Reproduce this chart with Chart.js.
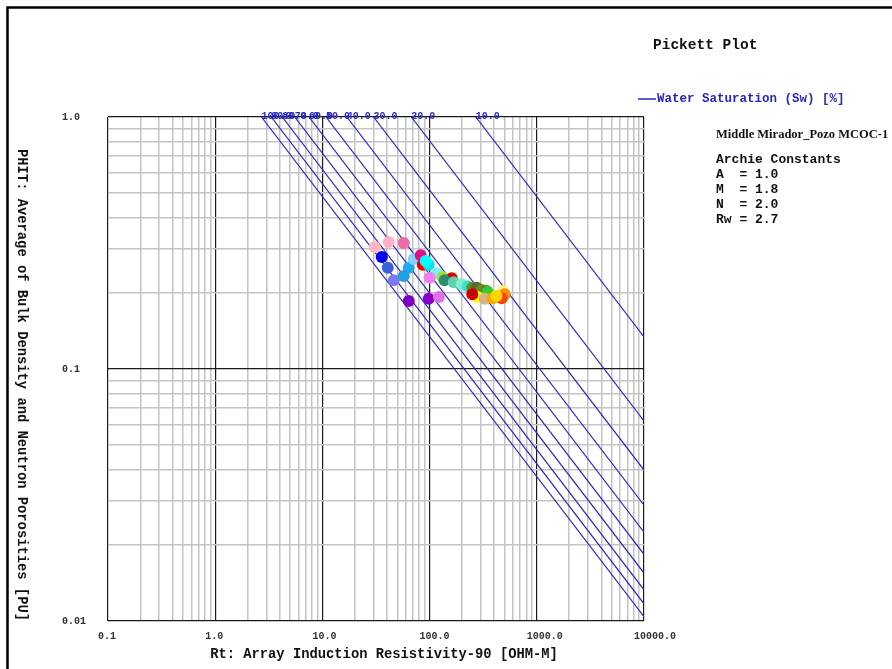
<!DOCTYPE html>
<html>
<head>
<meta charset="utf-8">
<script src="https://cdn.jsdelivr.net/npm/chart.js@4.4.0/dist/chart.umd.min.js"></script>
<style>
html,body{margin:0;padding:0;background:#fff;}
</style>
</head>
<body>
<canvas id="chart" width="892" height="669"></canvas>
<script>
//Datos de la grafica
//Lineas de saturacion de agua (Sw): Rt en PHIT = 1.0 y PHIT en el borde derecho (Rt = 10000)
const swLabels = ['100.0','90.0','80.0','70.0','60.0','50.0','40.0','30.0','20.0','10.0'];
const swTopRt  = [2.7, 3.33, 4.22, 5.51, 7.5, 10.8, 16.9, 30, 67.5, 270];
const swEndPhi = [0.0104, 0.0117, 0.0133, 0.0155, 0.0184, 0.0225, 0.0288, 0.0397, 0.0622, 0.134];

//Puntos medidos (Rt, PHIT)
const ptRt  = [30.8, 41.6, 57.4, 35.8, 40.7, 46.3, 63.9, 57.4, 71.1, 82.6,
               86.2, 98.1, 116, 100, 63.9, 98.1, 122, 132, 161, 138,
               168, 199, 226, 250, 275, 306, 340, 348, 480, 501,
               470, 280, 326, 387, 420, 250, 92];
const ptPhi = [0.305, 0.319, 0.316, 0.278, 0.252, 0.225, 0.252, 0.234, 0.273, 0.283,
               0.259, 0.259, 0.240, 0.230, 0.186, 0.190, 0.193, 0.232, 0.229, 0.225,
               0.221, 0.217, 0.213, 0.210, 0.210, 0.206, 0.204, 0.202, 0.204, 0.198,
               0.191, 0.193, 0.190, 0.191, 0.195, 0.198, 0.268];
const ptColors = ['#ffb6c1','#ffb0c4','#f06aa8','#0000ee','#3a62d8','#7b7bf0','#1eaaf0','#20a0e0','#87cefa','#e0108a',
                  '#ee0000','#00e5f0','#80f0f0','#f080f0','#8000c0','#8a00c8','#e070e8','#a0e040','#e00000','#2e8b6e',
                  '#60d0b0','#80f0d0','#40e0d0','#6b8e23','#556b2f','#6b8e23','#5a7a20','#32cd32','#fff080','#ff8c00',
                  '#ff4500','#ffff00','#d2b48c','#ffa500','#ffd700','#cc0000','#00ffff'];

//Etiquetas de los ejes
const xTickValues = [0.1, 1, 10, 100, 1000, 10000];
const xTickLabels = ['0.1','1.0','10.0','100.0','1000.0','10000.0'];
const yTickValues = [0.01, 0.1, 1];
const yTickLabels = ['0.01','0.1','1.0'];
const minorSteps = [1,2,3,4,5,6,7,8,9];

const archieLines = ['A  = 1.0','M  = 1.8','N  = 2.0','Rw = 2.7'];

const blue = '#2828c0';
const mono = '"Liberation Mono", "DejaVu Sans Mono", monospace';

//Busca el indice de una decada
function decadeIndex(list, v){
  for (let i = 0; i < list.length; i++){
    if (Math.abs(Math.log10(v) - Math.log10(list[i])) < 1e-6) return i;
  }
  return -1;
}

//Lineas de la rejilla: 1..9 en cada decada
function logTicks(decades){
  let t = [];
  for (let d = 0; d < decades.length - 1; d++){
    minorSteps.forEach(s => t.push({value: decades[d] * s}));
  }
  t.push({value: decades[decades.length - 1]});
  return t;
}

let datasets = [];
datasets.push({
  label: 'puntos',
  data: ptRt.map((r, i) => ({x: r, y: ptPhi[i]})),
  pointRadius: 6,
  pointBackgroundColor: ptColors,
  pointBorderWidth: 0,
  showLine: false,
  order: 0
});
swTopRt.forEach((r, i) => {
  datasets.push({
    label: swLabels[i],
    data: [{x: r, y: 1.0}, {x: 10000, y: swEndPhi[i]}],
    showLine: true,
    borderColor: blue,
    borderWidth: 1.2,
    pointRadius: 0,
    order: 1
  });
});

//Textos y marco
const extraText = {
  id: 'extraText',
  beforeDraw(chart){
    const c = chart.ctx;
    c.save();
    c.fillStyle = '#fff';
    c.fillRect(0, 0, chart.width, chart.height);
    c.restore();
  },
  afterDraw(chart){
    const c = chart.ctx;
    const xs = chart.scales.x, ys = chart.scales.y;
    c.save();
    //marco
    c.strokeStyle = '#000';
    c.lineWidth = 2.5;
    c.beginPath();
    c.moveTo(7.5, 669); c.lineTo(7.5, 7.5); c.lineTo(892, 7.5);
    c.stroke();

    //etiquetas Sw
    c.font = 'bold 10px ' + mono;
    c.fillStyle = blue;
    c.textAlign = 'left';
    c.textBaseline = 'middle';
    swLabels.forEach((t, i) => {
      c.fillText(t, xs.getPixelForValue(swTopRt[i]), ys.getPixelForValue(1.0) - 1);
    });

    //titulo
    c.fillStyle = '#111';
    c.font = 'bold 14.5px ' + mono;
    c.fillText('Pickett Plot', 653, 45);

    //leyenda
    c.strokeStyle = blue;
    c.lineWidth = 1.5;
    c.beginPath(); c.moveTo(638, 99); c.lineTo(656, 99); c.stroke();
    c.fillStyle = blue;
    c.font = 'bold 12.5px ' + mono;
    c.fillText('Water Saturation (Sw) [%]', 657, 99);

    //constantes de Archie
    c.fillStyle = '#111';
    c.font = 'bold 12.5px "Liberation Serif", serif';
    c.fillText('Middle Mirador_Pozo MCOC-1', 716, 135);
    c.font = 'bold 13px ' + mono;
    c.fillText('Archie Constants', 716, 160);
    archieLines.forEach((t, i) => c.fillText(t, 716, 175 + i * 14.8));

    //titulos de ejes
    c.font = 'bold 13.8px ' + mono;
    c.textAlign = 'center';
    c.fillText('Rt: Array Induction Resistivity-90 [OHM-M]', 384, 655);
    c.translate(21, 385);
    c.rotate(Math.PI / 2);
    c.fillText('PHIT: Average of Bulk Density and Neutron Porosities [PU]', 0, 0);
    c.restore();
  }
};

function gridColor(ctx, list){
  return decadeIndex(list, ctx.tick.value) >= 0 ? '#1a1a1a' : '#c4c4c4';
}

let ctx = document.getElementById('chart');
let chart = new Chart(ctx, {
  type: 'scatter',
  data: {datasets: datasets},
  options: {
    responsive: false,
    animation: false,
    devicePixelRatio: 1,
    layout: {padding: {left: 62, top: 117, right: 248, bottom: 0}},
    plugins: {legend: {display: false}, title: {display: false}, tooltip: {enabled: false}},
    scales: {
      x: {
        type: 'logarithmic',
        min: 0.1, max: 10000,
        afterBuildTicks: s => { s.ticks = logTicks(xTickValues); },
        afterFit: s => { s.height = 48; s.paddingLeft = 0; s.paddingRight = 0; },
        border: {display: false},
        grid: {
          drawTicks: false,
          color: c => gridColor(c, xTickValues),
          lineWidth: c => decadeIndex(xTickValues, c.tick.value) >= 0 ? 1.2 : 1.5
        },
        ticks: {
          autoSkip: false, maxRotation: 0, minRotation: 0,
          align: 'start', labelOffset: -10, padding: 9,
          color: '#333',
          font: {family: mono, size: 10, weight: 'bold'},
          callback: v => { const i = decadeIndex(xTickValues, v); return i >= 0 ? xTickLabels[i] : ''; }
        }
      },
      y: {
        type: 'logarithmic',
        min: 0.01, max: 1,
        afterBuildTicks: s => { s.ticks = logTicks(yTickValues); },
        afterFit: s => { s.width = 46; s.paddingTop = 0; s.paddingBottom = 0; },
        border: {display: false},
        grid: {
          drawTicks: false,
          color: c => gridColor(c, yTickValues),
          lineWidth: c => decadeIndex(yTickValues, c.tick.value) >= 0 ? 1.2 : 1.5
        },
        ticks: {
          autoSkip: false, crossAlign: 'far',
          color: '#333',
          font: {family: mono, size: 10, weight: 'bold'},
          callback: v => { const i = decadeIndex(yTickValues, v); return i >= 0 ? yTickLabels[i] : ''; }
        }
      }
    }
  },
  plugins: [extraText]
});
</script>
</body>
</html>
